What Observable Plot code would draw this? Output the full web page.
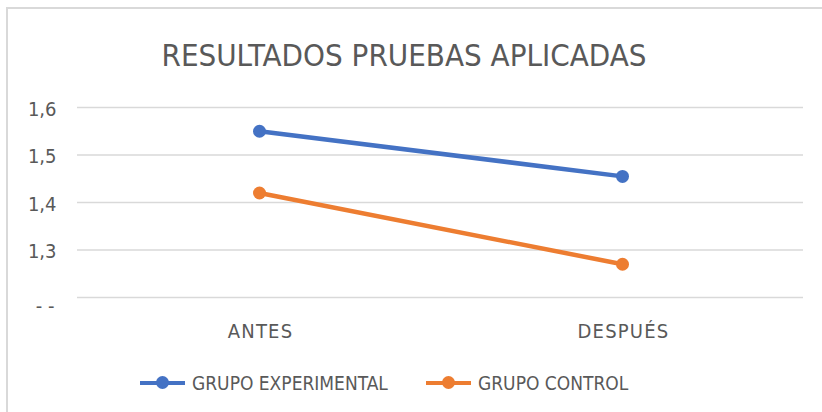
<!DOCTYPE html>
<html>
<head>
<meta charset="utf-8">
<script src="https://cdn.jsdelivr.net/npm/d3@7"></script>
<script src="https://cdn.jsdelivr.net/npm/@observablehq/plot@0.6"></script>
<style>
  html, body { margin: 0; padding: 0; background: #fff; }
  #wrap { position: relative; width: 822px; height: 412px; overflow: hidden; background: #fff;
          font-family: "Liberation Sans Narrow", "DejaVu Sans Condensed", "Liberation Sans", sans-serif; color: #595959; }
  #frame { position: absolute; left: 6px; top: 7px; right: -4px; bottom: -4px;
           border-left: 2px solid #d9d9d9; border-top: 2px solid #d9d9d9; }
  #title { position: absolute; left: 0; width: 808px; top: 35px; text-align: center;
           font-size: 31px; line-height: 40px; color: #595959; white-space: nowrap; }
  #chart { position: absolute; left: 0; top: 0; }
  .leg { position: absolute; top: 372px; height: 22px; font-size: 19px; line-height: 22px; white-space: nowrap; color: #595959; }
  .sw { position: absolute; height: 4px; top: 381px; }
  .mk { position: absolute; width: 13px; height: 13px; border-radius: 50%; top: 376px; }
  g[aria-label="x-axis tick label"] text { letter-spacing: 1.2px; }
</style>
</head>
<body>
<div id="wrap">
  <div id="frame"></div>
  <div id="title"></div>
  <div id="chart"></div>
  <div id="legend"></div>
</div>
<script>
const title = "RESULTADOS PRUEBAS APLICADAS";
const categories = ["ANTES", "DESPUÉS"];
const seriesNames = ["GRUPO EXPERIMENTAL", "GRUPO CONTROL"];
const experimental = [1.55, 1.455];
const control = [1.42, 1.27];
const seriesColors = ["#4472C4", "#ED7D31"];
const yTicks = [1.2, 1.3, 1.4, 1.5, 1.6];
const yTickLabels = ["- -", "1,3", "1,4", "1,5", "1,6"];

const rows = [];
[experimental, control].forEach((vals, si) => {
  vals.forEach((v, i) => rows.push({serie: seriesNames[si], cat: categories[i], value: v}));
});

document.getElementById("title").textContent = title;

const fmt = (d) => yTickLabels[yTicks.indexOf(d)];
const font = '"Liberation Sans Narrow", "DejaVu Sans Condensed", "Liberation Sans", sans-serif';

const plot = Plot.plot({
  width: 822,
  height: 350,
  marginLeft: 77,
  marginRight: 19,
  marginTop: 107,
  marginBottom: 53,
  style: { fontFamily: font, fontSize: "20px", color: "#595959", background: "transparent", overflow: "visible" },
  x: { type: "point", domain: categories, padding: 0.5, label: null },
  y: { domain: [1.2, 1.6], label: null },
  color: { domain: seriesNames, range: seriesColors },
  marks: [
    Plot.gridY(yTicks, { stroke: "#d9d9d9", strokeOpacity: 1, strokeWidth: 1.5 }),
    Plot.axisY(yTicks.slice(1), { tickSize: 0, tickPadding: 21, tickFormat: fmt, label: null, dy: 2, fill: "#595959", fontSize: 20 }),
    Plot.axisY(yTicks.slice(0, 1), { tickSize: 0, tickPadding: 23, tickFormat: fmt, label: null, dy: 9, fill: "#595959", fontSize: 20 }),
    Plot.axisX(categories, { tickSize: 0, tickPadding: 26, label: null, fill: "#595959", fontSize: 20, dx: 1 }),
    Plot.line(rows, { x: "cat", y: "value", z: "serie", stroke: "serie", strokeWidth: 4.5 }),
    Plot.dot(rows, { x: "cat", y: "value", fill: "serie", r: 6.5, stroke: "none" })
  ]
});
document.getElementById("chart").appendChild(plot);

// legend
const legend = document.getElementById("legend");
const legX = [140, 426];
seriesNames.forEach((name, i) => {
  const x0 = legX[i];
  const sw = document.createElement("div");
  sw.className = "sw"; sw.style.left = x0 + "px"; sw.style.width = "45px"; sw.style.background = seriesColors[i];
  legend.appendChild(sw);
  const mk = document.createElement("div");
  mk.className = "mk"; mk.style.left = (x0 + 16) + "px"; mk.style.background = seriesColors[i];
  legend.appendChild(mk);
  const t = document.createElement("div");
  t.className = "leg"; t.style.left = (x0 + 52) + "px"; t.textContent = name;
  legend.appendChild(t);
});
</script>
</body>
</html>
